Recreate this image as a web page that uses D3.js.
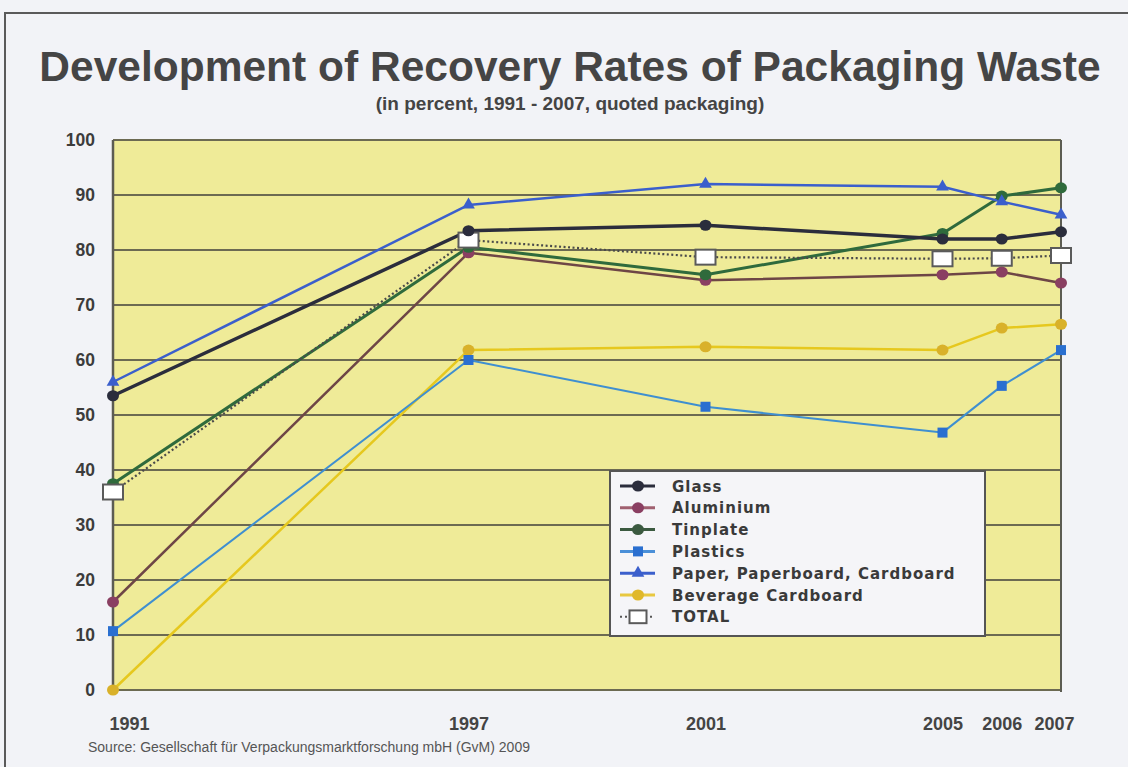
<!DOCTYPE html>
<html><head><meta charset="utf-8">
<script src="https://cdn.jsdelivr.net/npm/d3@7"></script>
<style>
html,body{margin:0;padding:0;background:#f2f3f7;}
svg{display:block;font-family:"Liberation Sans",Arial,sans-serif;}
</style></head>
<body>
<svg id="c" width="1128" height="767"></svg>
<script>
const years = [1991, 1997, 2001, 2005, 2006, 2007];
const yTicks = [0, 10, 20, 30, 40, 50, 60, 70, 80, 90, 100];
const glass     = [53.5, 83.5, 84.5, 82.0, 82.0, 83.3];
const aluminium = [16.0, 79.5, 74.5, 75.5, 76.0, 74.0];
const tinplate  = [37.5, 80.5, 75.5, 83.0, 89.8, 91.3];
const plastics  = [10.7, 60.0, 51.5, 46.8, 55.3, 61.8];
const paper     = [56.0, 88.2, 92.0, 91.5, 88.8, 86.4];
const beverage  = [0.0, 61.8, 62.4, 61.8, 65.8, 66.5];
const total     = [36.0, 81.8, 78.7, 78.4, 78.5, 79.0];
const seriesNames = ["Glass", "Aluminium", "Tinplate", "Plastics", "Paper, Paperboard, Cardboard", "Beverage Cardboard", "TOTAL"];

const series = [
  {name: seriesNames[5], vals: beverage, line: "#e6c81e", mark: "#d9b12a", shape: "circle", w: 2.5},
  {name: seriesNames[3], vals: plastics, line: "#3f8fd0", mark: "#2a6fd0", shape: "square", w: 2},
  {name: seriesNames[1], vals: aluminium, line: "#6e4646", mark: "#8a3f62", shape: "circle", w: 2.5},
  {name: seriesNames[2], vals: tinplate, line: "#2f6a3c", mark: "#2f6a3c", shape: "circle", w: 3},
  {name: seriesNames[6], vals: total, line: "#4a4a4a", mark: "#ffffff", shape: "box", w: 2.2, dash: "2,2.5"},
  {name: seriesNames[0], vals: glass, line: "#2b2d3c", mark: "#2b2d3c", shape: "circle", w: 3.5},
  {name: seriesNames[4], vals: paper, line: "#3b5fcc", mark: "#3b5fcc", shape: "triangle", w: 2.5}
];

const svg = d3.select("#c");
// outer frame
svg.append("rect").attr("x", 5).attr("y", 13).attr("width", 1130).attr("height", 760)
  .attr("fill", "#f2f3f7").attr("stroke", "#5a5a5a").attr("stroke-width", 2);

const x = d3.scaleLinear().domain([1991, 2007]).range([113, 1061]);
const y = d3.scaleLinear().domain([0, 100]).range([690, 140]);

// plot area
svg.append("rect").attr("x", x(1991)).attr("y", y(100)).attr("width", x(2007) - x(1991)).attr("height", y(0) - y(100))
  .attr("fill", "#efeb98");

// grid
svg.append("g").selectAll("line").data(yTicks).join("line")
  .attr("x1", x(1991)).attr("x2", x(2007)).attr("y1", d => y(d)).attr("y2", d => y(d))
  .attr("stroke", "#6c6a52").attr("stroke-width", 2);
svg.append("line").attr("x1", x(2007)).attr("x2", x(2007)).attr("y1", y(100)).attr("y2", y(0) + 2)
  .attr("stroke", "#5c5c52").attr("stroke-width", 2);
svg.append("line").attr("x1", x(1991)).attr("x2", x(1991)).attr("y1", y(100)).attr("y2", y(0) + 2)
  .attr("stroke", "#5c5c52").attr("stroke-width", 2.5);

// y axis labels
const yAxis = d3.axisLeft(y).tickValues(yTicks).tickSize(0).tickPadding(18);
svg.append("g").attr("transform", `translate(${x(1991)},0)`).call(yAxis)
  .call(g => g.select(".domain").remove())
  .selectAll("text").attr("font-size", 17.5).attr("font-weight", "bold").attr("fill", "#3c3c3c")
  .attr("font-family", "Liberation Sans, Arial, sans-serif");

// x axis labels
const xAxis = d3.axisBottom(x).tickValues(years).tickFormat(d3.format("d")).tickSize(0).tickPadding(27);
svg.append("g").attr("transform", `translate(0,${y(0)})`).call(xAxis)
  .call(g => g.select(".domain").remove())
  .selectAll("text").attr("font-size", 18).attr("font-weight", "bold").attr("fill", "#444")
  .attr("font-family", "Liberation Sans, Arial, sans-serif")
  .attr("dx", d => d === 1991 ? 16 : (d === 2007 ? -7 : 0));

// lines
const line = d3.line().x((d, i) => x(years[i])).y(d => y(d));
series.forEach(s => {
  svg.append("path").datum(s.vals).attr("d", line).attr("fill", "none")
    .attr("stroke", s.line).attr("stroke-width", s.w).attr("stroke-dasharray", s.dash || null)
    .attr("stroke-linejoin", "round");
});

function drawMarker(g, shape, color, cx, cy, scale) {
  scale = scale || 1;
  if (shape === "circle") {
    g.append("ellipse").attr("cx", cx).attr("cy", cy).attr("rx", 6 * scale).attr("ry", 5.5 * scale).attr("fill", color);
  } else if (shape === "square") {
    g.append("rect").attr("x", cx - 5 * scale).attr("y", cy - 5 * scale).attr("width", 10 * scale).attr("height", 10 * scale).attr("fill", color);
  } else if (shape === "triangle") {
    g.append("path").attr("d", d3.symbol(d3.symbolTriangle, 70 * scale * scale)()).attr("transform", `translate(${cx},${cy})`).attr("fill", color);
  } else if (shape === "box") {
    g.append("rect").attr("x", cx - 10 * scale).attr("y", cy - 7.5 * scale).attr("width", 20 * scale).attr("height", 15 * scale)
      .attr("fill", "#fff").attr("stroke", "#5a5a5a").attr("stroke-width", 2);
  }
}

const marks = svg.append("g");
series.forEach(s => {
  s.vals.forEach((v, i) => drawMarker(marks, s.shape, s.mark, x(years[i]), y(v)));
});

// legend
const lg = svg.append("g");
lg.append("rect").attr("x", 610).attr("y", 471).attr("width", 375).attr("height", 165)
  .attr("fill", "#f5f5f8").attr("stroke", "#555").attr("stroke-width", 2);
const legendOrder = [
  {name: seriesNames[0], c: "#2b2d3c", shape: "circle"},
  {name: seriesNames[1], c: "#8a3f62", shape: "circle", lc: "#a06070"},
  {name: seriesNames[2], c: "#3b5a40", shape: "circle"},
  {name: seriesNames[3], c: "#2a6fd0", shape: "square", lc: "#4a8fd8"},
  {name: seriesNames[4], c: "#3b5fcc", shape: "triangle"},
  {name: seriesNames[5], c: "#e0b82a", shape: "circle", lc: "#e8c840"},
  {name: seriesNames[6], c: "#fff", shape: "box", lc: "#555", dash: "2,3"}
];
legendOrder.forEach((d, i) => {
  const cy = 486 + i * 21.8;
  lg.append("line").attr("x1", 620).attr("x2", 655).attr("y1", cy).attr("y2", cy)
    .attr("stroke", d.lc || d.c).attr("stroke-width", d.dash ? 2 : 3).attr("stroke-dasharray", d.dash || null);
  drawMarker(lg, d.shape, d.c, 638, cy, d.shape === "box" ? 0.85 : 1);
  lg.append("text").attr("x", 672).attr("y", cy + 5.5).text(d.name)
    .attr("font-family", "DejaVu Sans, sans-serif")
    .attr("font-size", 15).attr("font-weight", "bold").attr("letter-spacing", 1).attr("fill", "#3a3a3a");
});

// titles
svg.append("text").attr("x", 570).attr("y", 81).attr("text-anchor", "middle")
  .attr("font-size", 42.5).attr("font-weight", "bold").attr("fill", "#454545")
  .text("Development of Recovery Rates of Packaging Waste");
svg.append("text").attr("x", 570).attr("y", 110).attr("text-anchor", "middle")
  .attr("font-size", 19).attr("font-weight", "bold").attr("fill", "#444")
  .text("(in percent, 1991 - 2007, quoted packaging)");
svg.append("text").attr("x", 88).attr("y", 752)
  .attr("font-size", 14).attr("fill", "#555")
  .text("Source: Gesellschaft für Verpackungsmarktforschung mbH (GvM) 2009");
</script>
</body></html>
